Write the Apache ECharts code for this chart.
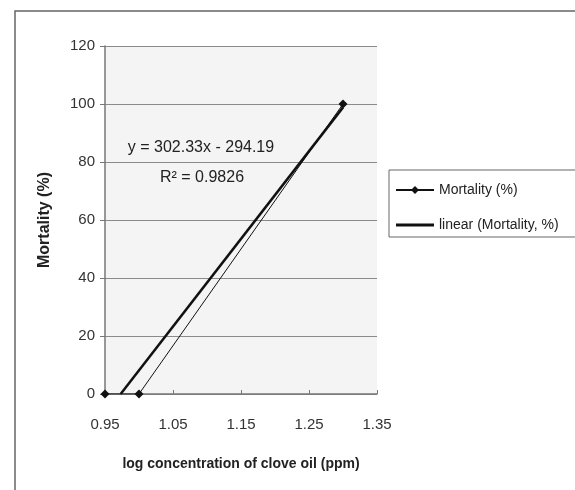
<!DOCTYPE html>
<html>
<head>
<meta charset="utf-8">
<script src="https://cdn.jsdelivr.net/npm/echarts@6/dist/echarts.min.js"></script>
<style>
html,body{margin:0;padding:0;background:#fff;}
#c{width:575px;height:490px;}
</style>
</head>
<body>
<div id="c"></div>
<script>
const xTicks = [0.95, 1.05, 1.15, 1.25, 1.35];
const yTicks = [0, 20, 40, 60, 80, 100, 120];
const logConc = [0.95, 1.0, 1.3];
const mortality = [0, 0, 100];
const trendX = [0.973, 1.3];
const trendY = [0, 98.84];
const equationText = 'y = 302.33x - 294.19';
const r2Text = 'R\u00b2 = 0.9826';
const seriesNames = ['Mortality (%)', 'linear (Mortality, %)'];

const FONT = '"Liberation Sans", Arial, sans-serif';
const chart = echarts.init(document.getElementById('c'), null, {renderer: 'canvas'});
chart.setOption({
  backgroundColor: '#ffffff',
  animation: false,
  grid: {left: 105, right: 198, top: 46, bottom: 96, show: true, backgroundColor: '#f4f4f4', borderWidth: 0},
  xAxis: {
    type: 'value', min: xTicks[0], max: xTicks[xTicks.length - 1], interval: 0.1,
    name: 'log concentration of clove oil (ppm)', nameLocation: 'middle', nameGap: 63,
    nameTextStyle: {fontFamily: FONT, fontSize: 14, fontWeight: 'bold', color: '#222'},
    axisLine: {show: true, lineStyle: {color: '#777', width: 1.5}},
    axisTick: {show: true, inside: true, length: 4, lineStyle: {color: '#777'}},
    axisLabel: {fontFamily: FONT, fontSize: 15, color: '#333', margin: 23,
      formatter: v => { const t = xTicks.find(x => Math.abs(x - v) < 1e-6); return t !== undefined ? t.toFixed(2) : ''; }},
    splitLine: {show: false}
  },
  yAxis: {
    type: 'value', min: yTicks[0], max: yTicks[yTicks.length - 1], interval: 20,
    name: 'Mortality (%)', nameLocation: 'middle', nameGap: 52,
    nameTextStyle: {fontFamily: FONT, fontSize: 16, fontWeight: 'bold', color: '#222'},
    axisLine: {show: true, lineStyle: {color: '#777', width: 1.5}},
    axisTick: {show: true, inside: false, length: 5, lineStyle: {color: '#777'}},
    axisLabel: {fontFamily: FONT, fontSize: 15, color: '#333', margin: 10},
    splitLine: {show: true, lineStyle: {color: '#8a8a8a', width: 1}}
  },
  legend: {
    orient: 'vertical', left: 389, top: 170,
    data: [
      {name: seriesNames[0]},
      {name: seriesNames[1], icon: 'path://M0,0 L0,0 Z M0,3.5 L38,3.5 L38,6.5 L0,6.5 Z M38,10 L38,10 Z', itemStyle: {color: '#111'}}
    ],
    itemWidth: 38, itemHeight: 10, itemGap: 21,
    padding: [13, 30, 5, 6],
    borderColor: '#666', borderWidth: 1, backgroundColor: '#ffffff',
    textStyle: {fontFamily: FONT, fontSize: 14, color: '#222'}
  },
  graphic: [
    {type: 'rect', shape: {x: 15, y: 11, width: 600, height: 520}, style: {fill: 'none', stroke: '#666', lineWidth: 1.5}, z: -10},
    {type: 'text', x: 201, y: 148, style: {text: equationText, font: '16px ' + FONT, fill: '#222', textAlign: 'center', textVerticalAlign: 'middle'}, z: 100},
    {type: 'text', x: 202, y: 178, style: {text: r2Text, font: '16px ' + FONT, fill: '#222', textAlign: 'center', textVerticalAlign: 'middle'}, z: 100}
  ],
  series: [
    {
      name: seriesNames[0], type: 'line',
      data: logConc.map((x, i) => [x, mortality[i]]),
      symbol: 'diamond', symbolSize: 9, showSymbol: true,
      lineStyle: {color: '#111', width: 1},
      itemStyle: {color: '#111'},
      z: 3
    },
    {
      name: seriesNames[1], type: 'line',
      data: trendX.map((x, i) => [x, trendY[i]]),
      symbol: 'none',
      lineStyle: {color: '#111', width: 2.5},
      itemStyle: {color: '#111'},
      z: 2
    }
  ]
});
</script>
</body>
</html>
